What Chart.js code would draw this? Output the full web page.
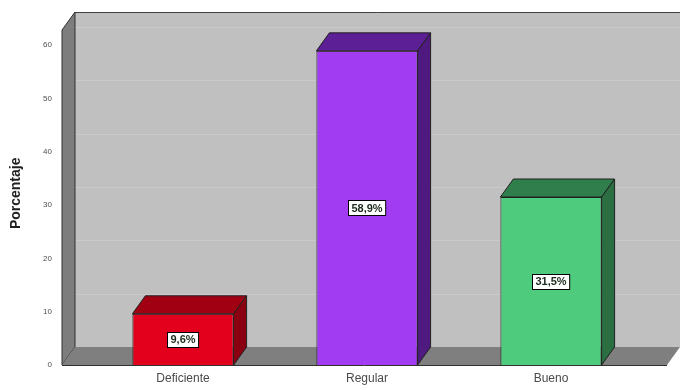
<!DOCTYPE html>
<html>
<head>
<meta charset="utf-8">
<script src="https://cdn.jsdelivr.net/npm/chart.js@4"></script>
<style>
  html, body { margin: 0; padding: 0; background: #ffffff; overflow: hidden; }
  #wrap { width: 680px; height: 390px; }
  canvas { display: block; }
</style>
</head>
<body>
<div id="wrap"><canvas id="chart" width="680" height="390"></canvas></div>
<script>
const categories = ['Deficiente', 'Regular', 'Bueno'];
const percentages = [9.6, 58.9, 31.5];
const yTicks = [0, 10, 20, 30, 40, 50, 60];

const frontColors = ['#e3001d', '#a23cf2', '#4fcb7d'];
const topColors = ['#a00012', '#5d1f96', '#2f7e4c'];
const sideColors = ['#8a0010', '#4e1a80', '#2a6e42'];

const DX = 13, DY = -18; // depth of the 3D box

const box3d = {
  id: 'box3d',
  beforeDatasetsDraw(chart) {
    const ctx = chart.ctx;
    const y = chart.scales.y;
    const y0 = y.getPixelForValue(0);
    const L = 62, R = 667, T = 12;
    ctx.save();
    // back wall
    ctx.fillStyle = '#c0c0c0';
    ctx.fillRect(L + DX, T, R - L, y0 + DY - T);
    // faint grid lines on the back wall
    ctx.strokeStyle = '#cacaca';
    ctx.lineWidth = 1;
    yTicks.forEach(v => {
      if (v === 0) return;
      const py = Math.round(y.getPixelForValue(v) + DY) + 0.5;
      ctx.beginPath();
      ctx.moveTo(L + DX, py);
      ctx.lineTo(R + DX, py);
      ctx.stroke();
    });
    ctx.strokeStyle = '#404040';
    ctx.beginPath();
    ctx.moveTo(L + DX, T + 0.5);
    ctx.lineTo(R + DX, T + 0.5);
    ctx.stroke();
    // left wall
    ctx.fillStyle = '#7d7d7d';
    ctx.beginPath();
    ctx.moveTo(L, T - DY);
    ctx.lineTo(L + DX, T);
    ctx.lineTo(L + DX, y0 + DY);
    ctx.lineTo(L, y0);
    ctx.closePath();
    ctx.fill();
    ctx.strokeStyle = '#303030';
    ctx.stroke();
    // floor
    ctx.fillStyle = '#7f7f7f';
    ctx.beginPath();
    ctx.moveTo(L, y0);
    ctx.lineTo(L + DX, y0 + DY);
    ctx.lineTo(R + DX, y0 + DY);
    ctx.lineTo(R, y0);
    ctx.closePath();
    ctx.fill();
    ctx.strokeStyle = '#303030';
    ctx.beginPath();
    ctx.moveTo(L, y0 + 0.5);
    ctx.lineTo(R, y0 + 0.5);
    ctx.stroke();
    ctx.restore();
  },
  afterDatasetsDraw(chart) {
    const ctx = chart.ctx;
    const meta = chart.getDatasetMeta(0);
    ctx.save();
    meta.data.forEach((bar, i) => {
      const p = bar.getProps(['x', 'y', 'base', 'width'], true);
      const l = p.x - p.width / 2, r = p.x + p.width / 2;
      // top face
      ctx.fillStyle = topColors[i];
      ctx.beginPath();
      ctx.moveTo(l, p.y);
      ctx.lineTo(l + DX, p.y + DY);
      ctx.lineTo(r + DX, p.y + DY);
      ctx.lineTo(r, p.y);
      ctx.closePath();
      ctx.fill();
      ctx.strokeStyle = '#202020';
      ctx.lineWidth = 1;
      ctx.stroke();
      // right side face
      ctx.fillStyle = sideColors[i];
      ctx.beginPath();
      ctx.moveTo(r, p.y);
      ctx.lineTo(r + DX, p.y + DY);
      ctx.lineTo(r + DX, p.base + DY);
      ctx.lineTo(r, p.base);
      ctx.closePath();
      ctx.fill();
      ctx.stroke();

      // value label
      const txt = percentages[i].toFixed(1).replace('.', ',') + '%';
      ctx.font = 'bold 11px Arial, "Liberation Sans", sans-serif';
      const w = ctx.measureText(txt).width + 6;
      const h = 15;
      const cy = (p.y + p.base) / 2;
      const bx = Math.round(p.x - w / 2) + 0.5, by = Math.round(cy - h / 2) + 0.5;
      ctx.fillStyle = '#ffffff';
      ctx.fillRect(bx, by, w, h);
      ctx.strokeStyle = '#000000';
      ctx.strokeRect(bx, by, w, h);
      ctx.fillStyle = '#1b2a1b';
      ctx.textAlign = 'center';
      ctx.textBaseline = 'middle';
      ctx.fillText(txt, p.x, cy + 1);
    });
    ctx.restore();
  }
};

new Chart(document.getElementById('chart'), {
  type: 'bar',
  data: {
    labels: categories,
    datasets: [{
      data: percentages,
      backgroundColor: frontColors,
      borderColor: '#202020',
      borderWidth: 1,
      barPercentage: 0.55,
      categoryPercentage: 1
    }]
  },
  options: {
    responsive: false,
    animation: false,
    layout: { padding: { left: 0, right: 37, top: 45, bottom: 0 } },
    plugins: {
      legend: { display: false },
      tooltip: { enabled: false }
    },
    scales: {
      x: {
        grid: { display: false, drawTicks: false },
        border: { display: false },
        ticks: {
          color: '#4a4a4a',
          padding: 6,
          font: { family: 'Arial, "Liberation Sans", sans-serif', size: 12 }
        },
        afterFit(scale) { scale.height = 25; }
      },
      y: {
        min: 0,
        max: 60,
        grid: { display: false, drawTicks: false },
        border: { display: false },
        afterBuildTicks(scale) { scale.ticks = yTicks.map(v => ({ value: v })); },
        ticks: {
          color: '#505050',
          padding: 39,
          font: { family: 'Arial, "Liberation Sans", sans-serif', size: 8 }
        },
        title: {
          display: true,
          text: '      Porcentaje', // leading spaces nudge the title up a little
          color: '#202020',
          padding: { top: 8, bottom: 0 },
          font: { family: 'Arial, "Liberation Sans", sans-serif', size: 14, weight: 'bold' }
        },
        afterFit(scale) {
          scale.width = 91;
          // the wide tick padding must not push the plot area down
          scale.paddingTop = 0;
          scale.paddingBottom = 0;
        }
      }
    }
  },
  plugins: [box3d]
});
</script>
</body>
</html>
